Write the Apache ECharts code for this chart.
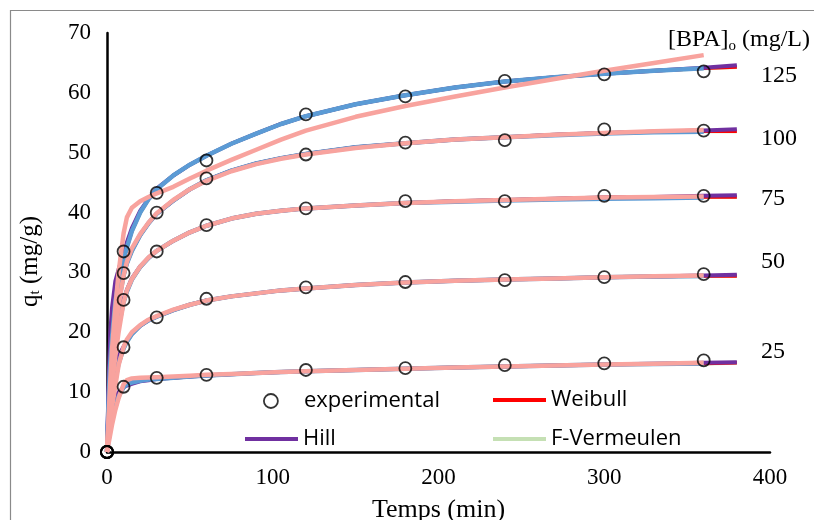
<!DOCTYPE html>
<html>
<head>
<meta charset="utf-8">
<script src="https://cdn.jsdelivr.net/npm/echarts@6/dist/echarts.min.js"></script>
<style>html,body{margin:0;padding:0;background:#fff;}#c{width:814px;height:520px;}</style>
</head>
<body>
<div id="c"></div>
<script>
// ---- data ----
const xTicks = [0, 100, 200, 300, 400];
const yTicks = [0, 10, 20, 30, 40, 50, 60, 70];
const concentrations = ['125', '100', '75', '50', '25'];

const tExp = [0, 10, 30, 60, 120, 180, 240, 300, 360];
const exp125 = [0, 33.5, 43.3, 48.7, 56.4, 59.4, 62.0, 63.1, 63.6];
const exp100 = [0, 29.9, 40.0, 45.7, 49.7, 51.7, 52.1, 53.9, 53.7];
const exp75  = [0, 25.4, 33.5, 37.9, 40.7, 41.9, 41.9, 42.8, 42.8];
const exp50  = [0, 17.5, 22.5, 25.6, 27.5, 28.4, 28.7, 29.2, 29.7];
const exp25  = [0, 10.9, 12.4, 12.9, 13.7, 14.0, 14.5, 14.8, 15.3];

const tFit = [0, 1, 2, 3, 5, 7, 10, 12, 15, 20, 25, 30, 40, 50, 60, 75, 90, 105, 120, 150, 180, 210, 240, 270, 300, 330, 360, 380];
const weibull125 = [0, 9, 15, 19, 25, 28.5, 32, 34.2, 36.9, 40.0, 42.2, 43.9, 46.2, 48.0, 49.5, 51.5, 53.2, 54.8, 56.1, 58.1, 59.6, 60.9, 61.9, 62.6, 63.2, 63.7, 64.1, 64.3];
const weibull100 = [0, 7, 12, 16, 21, 25, 29.5, 31.5, 33.6, 36.2, 38.2, 39.8, 42.0, 43.9, 45.4, 47.0, 48.2, 49.1, 49.8, 50.9, 51.6, 52.2, 52.6, 53.0, 53.3, 53.5, 53.6, 53.6];
const weibull75  = [0, 5, 9, 12.5, 17, 21, 25, 26.8, 28.8, 30.9, 32.4, 33.6, 35.3, 36.7, 37.8, 39.0, 39.8, 40.3, 40.7, 41.2, 41.6, 41.9, 42.1, 42.3, 42.5, 42.6, 42.6, 42.6];
const weibull50  = [0, 3.5, 6.5, 9, 12, 14.8, 17.3, 18.4, 19.7, 21.1, 22.0, 22.6, 23.7, 24.6, 25.3, 26.0, 26.5, 27.0, 27.3, 27.9, 28.3, 28.6, 28.8, 29.0, 29.2, 29.3, 29.4, 29.4];
const weibull25  = [0, 2, 4, 5.5, 7.5, 9.3, 10.8, 11.3, 11.6, 11.9, 12.1, 12.2, 12.4, 12.6, 12.8, 13.0, 13.2, 13.35, 13.5, 13.7, 13.9, 14.1, 14.3, 14.45, 14.6, 14.7, 14.8, 14.9];

const hill125 = [0, 12, 20, 24, 28.5, 30.5, 33.2, 35.0, 37.4, 40.3, 42.3, 44.0, 46.2, 48.0, 49.5, 51.5, 53.2, 54.8, 56.1, 58.1, 59.6, 60.9, 61.9, 62.6, 63.2, 63.7, 64.2, 64.6];
const hill100 = [0, 10, 16, 20, 24, 27, 30, 31.8, 33.8, 36.3, 38.2, 39.8, 42.0, 43.9, 45.4, 47.0, 48.2, 49.1, 49.8, 50.9, 51.6, 52.2, 52.6, 53.0, 53.3, 53.5, 53.7, 53.9];
const hill75  = [0, 8, 12.5, 15.5, 20, 22.8, 25.5, 27.1, 29.0, 31.0, 32.4, 33.6, 35.3, 36.7, 37.8, 39.0, 39.8, 40.3, 40.7, 41.2, 41.6, 41.9, 42.1, 42.3, 42.5, 42.6, 42.8, 42.9];
const hill50  = [0, 5, 9, 11.5, 14, 16, 17.6, 18.6, 19.8, 21.1, 22.0, 22.6, 23.7, 24.6, 25.3, 26.0, 26.5, 27.0, 27.3, 27.9, 28.3, 28.6, 28.8, 29.0, 29.2, 29.3, 29.5, 29.6];
const hill25  = [0, 3.5, 6, 7.5, 9, 10, 10.8, 11.1, 11.4, 11.8, 12.0, 12.2, 12.4, 12.6, 12.8, 13.0, 13.2, 13.35, 13.5, 13.7, 13.9, 14.1, 14.3, 14.45, 14.6, 14.75, 14.9, 15.0];

const tBlue = [0, 1, 2, 3, 5, 7, 10, 12, 15, 20, 25, 30, 40, 50, 60, 75, 90, 105, 120, 150, 180, 210, 240, 270, 300, 330, 360];
const blue125 = [0, 9, 15, 19, 25, 28.5, 32, 34.2, 36.9, 40.0, 42.2, 43.9, 46.2, 48.0, 49.5, 51.5, 53.2, 54.8, 56.1, 58.1, 59.6, 60.9, 61.9, 62.6, 63.2, 63.7, 64.1];
const blue100 = [0, 7, 12, 16, 21, 25, 29.5, 31.5, 33.6, 36.2, 38.2, 39.8, 42.0, 43.9, 45.4, 47.0, 48.2, 49.1, 49.8, 50.9, 51.6, 52.2, 52.6, 52.9, 53.2, 53.4, 53.5];
const blue75  = [0, 5, 9, 12.5, 17, 21, 25, 26.8, 28.8, 30.9, 32.4, 33.6, 35.3, 36.7, 37.8, 39.0, 39.8, 40.3, 40.7, 41.2, 41.6, 41.8, 42.0, 42.2, 42.3, 42.4, 42.5];
const blue50  = [0, 3.5, 6.5, 9, 12, 14.8, 17.3, 18.4, 19.7, 21.1, 22.0, 22.6, 23.7, 24.6, 25.3, 26.0, 26.5, 27.0, 27.3, 27.9, 28.3, 28.6, 28.8, 29.0, 29.2, 29.3, 29.4];
const blue25  = [0, 2, 4, 5.5, 7.5, 9.3, 10.8, 11.3, 11.6, 11.9, 12.1, 12.2, 12.4, 12.6, 12.8, 13.0, 13.2, 13.35, 13.5, 13.7, 13.9, 14.1, 14.3, 14.45, 14.6, 14.7, 14.8];

const tSal = [0, 1, 2, 3, 5, 7, 10, 12, 15, 20, 25, 30, 40, 50, 60, 75, 90, 105, 120, 150, 180, 210, 240, 270, 300, 330, 360];
const sal125 = [0, 6, 12, 17, 24, 30, 36.5, 39.2, 40.8, 41.9, 42.6, 43.2, 44.3, 45.7, 47.0, 48.8, 50.5, 52.2, 53.7, 56.0, 57.8, 59.4, 60.9, 62.3, 63.7, 65.0, 66.3];
const sal100 = [0, 5, 10, 14, 20, 24.5, 29.5, 31.8, 34.0, 36.4, 38.3, 39.9, 42.1, 43.9, 45.3, 46.9, 48.1, 49.0, 49.7, 50.8, 51.6, 52.2, 52.6, 53.0, 53.3, 53.6, 53.8];
const sal75  = [0, 4, 8, 11, 16, 20, 25, 27.0, 28.9, 31.0, 32.5, 33.6, 35.3, 36.7, 37.8, 39.0, 39.8, 40.3, 40.7, 41.2, 41.6, 41.9, 42.1, 42.3, 42.5, 42.6, 42.7];
const sal50  = [0, 2.5, 5, 7.5, 11, 14.5, 17.5, 18.8, 20.0, 21.2, 22.1, 22.7, 23.8, 24.6, 25.3, 26.0, 26.5, 27.0, 27.3, 27.9, 28.3, 28.6, 28.8, 29.0, 29.2, 29.35, 29.5];
const sal25  = [0, 1.5, 3, 4.5, 7, 9, 11.3, 12.0, 12.3, 12.4, 12.45, 12.5, 12.6, 12.75, 12.9, 13.05, 13.2, 13.35, 13.5, 13.7, 13.9, 14.1, 14.3, 14.45, 14.6, 14.75, 14.9];

// ---- build ----
const pair = (xs, ys) => xs.map((x, i) => [x, ys[i]]);
const SERIF = '"Liberation Serif", "Times New Roman", serif';
const SANS = '"Open Sans", "Noto Sans", sans-serif';

function lineSeries(name, color, width, xs, list) {
  return list.map(ys => ({
    name: name, type: 'line', data: pair(xs, ys), symbol: 'none',
    smooth: false,
    lineStyle: { color: color, width: width, cap: 'butt', join: 'round' },
    itemStyle: { color: color },
    silent: true, animation: false
  }));
}

const series = [].concat(
  lineSeries('F-Vermeulen', '#C5E0B4', 4, tFit, [weibull125, weibull100, weibull75, weibull50, weibull25]),
  lineSeries('Weibull', '#FF0000', 3.5, tFit, [weibull125, weibull100, weibull75, weibull50, weibull25]),
  lineSeries('Hill', '#7030A0', 4, tFit, [hill125, hill100, hill75, hill50, hill25]),
  lineSeries('fit 4', '#5B9BD5', 4.5, tBlue, [blue125, blue100, blue75, blue50, blue25]),
  lineSeries('fit 5', '#F8A39E', 4.5, tSal, [sal125, sal100, sal75, sal50, sal25]),
  [exp125, exp100, exp75, exp50, exp25].map(ys => ({
    name: 'experimental', type: 'scatter', data: pair(tExp, ys),
    symbol: 'circle', symbolSize: 12,
    itemStyle: { color: 'rgba(255,255,255,0)', borderColor: '#000', borderWidth: 1.8 },
    silent: true, animation: false, z: 5
  }))
);

const legendText = { color: '#000', fontSize: 22, fontFamily: SANS };
const option = {
  backgroundColor: '#fff',
  animation: false,
  grid: { left: 107, right: 44, top: 33, bottom: 68, containLabel: false, outerBoundsMode: 'none' },
  xAxis: {
    type: 'value', min: 0, max: 400, interval: 100,
    axisLine: { show: true, onZero: true, lineStyle: { color: '#000', width: 2.5 } },
    axisTick: { show: false }, splitLine: { show: false },
    axisLabel: { color: '#000', fontSize: 23, fontFamily: SERIF, margin: 14,
      formatter: v => xTicks.includes(v) ? String(v) : '' },
    name: 'Temps (min)', nameLocation: 'middle', nameGap: 45,
    nameTextStyle: { color: '#000', fontSize: 26, fontFamily: SERIF }
  },
  yAxis: {
    type: 'value', min: 0, max: 70, interval: 10,
    axisLine: { show: true, lineStyle: { color: '#000', width: 2.5 } },
    axisTick: { show: false }, splitLine: { show: false },
    axisLabel: { color: '#000', fontSize: 23, fontFamily: SERIF, margin: 16,
      formatter: v => yTicks.includes(v) ? String(v) : '' },
    name: '{a|q}{s|t}{a| (mg/g)}', nameLocation: 'middle', nameGap: 64, nameRotate: 90,
    nameTextStyle: { color: '#000', fontFamily: SERIF, padding: [0, 38, 0, 0],
      rich: { a: { fontSize: 25, fontFamily: SERIF, color: '#000' },
              s: { fontSize: 15, fontFamily: SERIF, color: '#000', verticalAlign: 'bottom', padding: [10, 0, 0, 0] } } }
  },
  legend: [
    { data: ['experimental'], left: 263, top: 390, padding: 0, icon: 'circle', itemWidth: 14, itemHeight: 14,
      itemStyle: { color: 'rgba(255,255,255,0)', borderColor: '#000', borderWidth: 1.8 },
      textStyle: Object.assign({ padding: [0, 0, 0, 21] }, legendText), selectedMode: false },
    { data: ['Weibull'], left: 493, top: 389, padding: 0, icon: 'rect', itemWidth: 53, itemHeight: 4,
      textStyle: legendText, selectedMode: false },
    { data: ['Hill'], left: 245, top: 428, padding: 0, icon: 'rect', itemWidth: 53, itemHeight: 4,
      textStyle: legendText, selectedMode: false },
    { data: ['F-Vermeulen'], left: 493, top: 428, padding: 0, icon: 'rect', itemWidth: 53, itemHeight: 4,
      textStyle: legendText, selectedMode: false }
  ],
  graphic: [
    { type: 'rect', shape: { x: 10.5, y: 10.5, width: 840, height: 540 }, silent: true,
      style: { fill: 'none', stroke: '#8a8a8a', lineWidth: 1.2 }, z: -1 },
    { type: 'text', left: 668, top: 28, silent: true,
      style: { text: '{a|[BPA]}{s|o}{a| (mg/L)}', fill: '#000',
        rich: { a: { fontSize: 24, fontFamily: SERIF, fill: '#000' },
                s: { fontSize: 15, fontFamily: SERIF, fill: '#000', verticalAlign: 'bottom', padding: [12, 0, 0, 0] } } } }
  ].concat(concentrations.map((c, i) => ({
    type: 'text', left: 761, top: [64, 127, 187, 250, 340][i], silent: true,
    style: { text: c, fill: '#000', fontSize: 24, fontFamily: SERIF }
  }))),
  series: series
};

const chart = echarts.init(document.getElementById('c'), null, { renderer: 'canvas' });
chart.setOption(option);
</script>
</body>
</html>
